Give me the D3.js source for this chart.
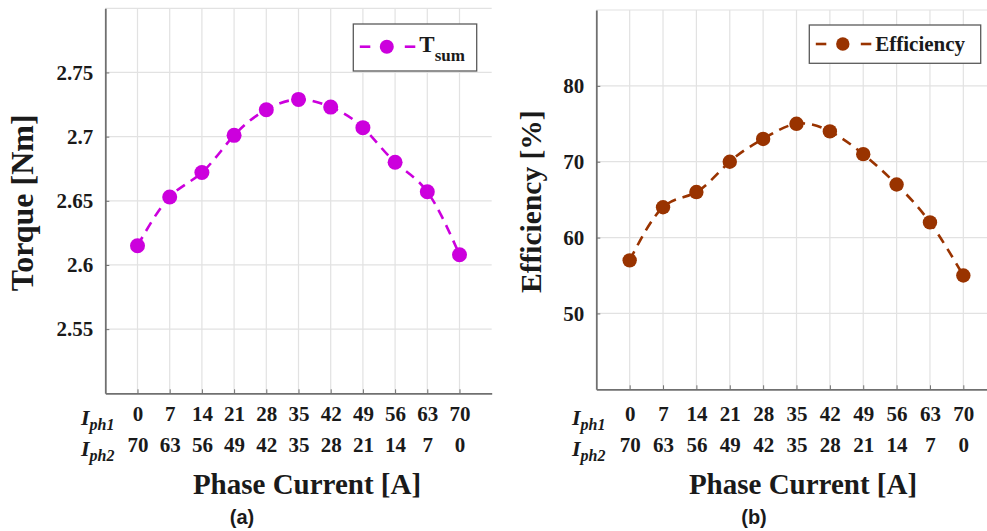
<!DOCTYPE html>
<html>
<head>
<meta charset="utf-8">
<script src="https://cdn.jsdelivr.net/npm/d3@7"></script>
<style>
  html, body { margin: 0; padding: 0; background: #fff; }
  svg { display: block; }
  text { fill: #1a1a1a; }
</style>
</head>
<body>
<svg id="chart" width="987" height="531"></svg>
<script>
// ---------------- data ----------------
const iph1 = [0, 7, 14, 21, 28, 35, 42, 49, 56, 63, 70];
const iph2 = [70, 63, 56, 49, 42, 35, 28, 21, 14, 7, 0];
const torque = [2.615, 2.653, 2.672, 2.701, 2.721, 2.729, 2.723, 2.707, 2.680, 2.657, 2.608];
const efficiency = [57, 64, 66, 70, 73, 75, 74, 71, 67, 62, 55];
const torqueTicks = [2.55, 2.6, 2.65, 2.7, 2.75];
const effTicks = [50, 60, 70, 80];
const torqueTickLabels = ["2.55", "2.6", "2.65", "2.7", "2.75"];
const effTickLabels = ["50", "60", "70", "80"];

const svg = d3.select("#chart");
const serif = "'Liberation Serif', 'Times New Roman', serif";
const sans = "'Liberation Sans', Arial, sans-serif";

function panel(cfg) {
  const g = svg.append("g");
  const idx = d3.range(iph1.length);
  const x = d3.scaleLinear().domain([-1, 11]).range([cfg.x0, cfg.x1]);
  const y = d3.scaleLinear().domain(cfg.yDomain).range([cfg.y0, cfg.y1]);

  // grid: vertical
  g.append("g").attr("class", "vgrid")
    .selectAll("line").data(idx).join("line")
    .attr("x1", d => x(d)).attr("x2", d => x(d))
    .attr("y1", cfg.y0).attr("y2", cfg.y1)
    .attr("stroke", "#e2e2e2").attr("stroke-width", 1.2);
  // grid: horizontal (ticks + top)
  g.append("g").attr("class", "hgrid")
    .selectAll("line").data(cfg.ticks.concat([cfg.yDomain[1]])).join("line")
    .attr("x1", cfg.x0).attr("x2", cfg.x1)
    .attr("y1", d => y(d)).attr("y2", d => y(d))
    .attr("stroke", "#e2e2e2").attr("stroke-width", 1.2);

  // y axis
  const yAxis = d3.axisLeft(y).tickValues(cfg.ticks)
    .tickFormat((d, i) => cfg.tickLabels[i]).tickSizeInner(-4).tickSizeOuter(0).tickPadding(12);
  const ya = g.append("g").attr("transform", `translate(${cfg.x0},0)`).call(yAxis);
  ya.select(".domain").attr("stroke", "#707070").attr("stroke-width", 1.8);
  ya.selectAll(".tick line").attr("stroke", "#707070").attr("stroke-width", 1);
  ya.selectAll(".tick text").attr("font-family", serif).attr("font-weight", "bold")
    .attr("font-size", cfg.tickFont).attr("fill", "#1a1a1a");

  // x axis row 1 (Iph1)
  const xAxis1 = d3.axisBottom(x).tickValues(idx).tickFormat(i => iph1[i])
    .tickSizeInner(-4).tickSizeOuter(0).tickPadding(cfg.row1Pad);
  const xa = g.append("g").attr("transform", `translate(0,${cfg.y0})`).call(xAxis1);
  xa.select(".domain").attr("stroke", "#707070").attr("stroke-width", 1.8);
  xa.selectAll(".tick line").attr("stroke", "#707070").attr("stroke-width", 1);
  xa.selectAll(".tick text").attr("font-family", serif).attr("font-weight", "bold")
    .attr("font-size", cfg.tickFont).attr("fill", "#1a1a1a");

  // x axis row 2 (Iph2)
  const xAxis2 = d3.axisBottom(x).tickValues(idx).tickFormat(i => iph2[i])
    .tickSize(0).tickPadding(cfg.row2Pad);
  const xb = g.append("g").attr("transform", `translate(0,${cfg.y0})`).call(xAxis2);
  xb.select(".domain").remove();
  xb.selectAll(".tick text").attr("font-family", serif).attr("font-weight", "bold")
    .attr("font-size", cfg.tickFont).attr("fill", "#1a1a1a");

  // row labels I_ph1, I_ph2
  [["1", cfg.row1Base], ["2", cfg.row2Base]].forEach(([n, base]) => {
    const t = g.append("text").attr("x", cfg.labX).attr("y", base)
      .attr("font-family", serif).attr("font-weight", "bold").attr("font-style", "italic")
      .attr("font-size", cfg.tickFont + 1);
    t.append("tspan").text("I");
    t.append("tspan").attr("dy", 5).attr("font-size", cfg.tickFont - 5).text("ph" + n);
  });

  // axis titles
  g.append("text")
    .attr("transform", `translate(${cfg.yTitleX},${(cfg.y0 + cfg.y1) / 2 + 2}) rotate(-90)`)
    .attr("text-anchor", "middle").attr("font-family", serif).attr("font-weight", "bold")
    .attr("font-size", cfg.yTitleFont).text(cfg.yTitle);
  g.append("text").attr("x", cfg.xTitleX).attr("y", cfg.xTitleY)
    .attr("text-anchor", "middle").attr("font-family", serif).attr("font-weight", "bold")
    .attr("font-size", 29).text("Phase Current [A]");
  g.append("text").attr("x", cfg.tagX).attr("y", 524)
    .attr("text-anchor", "middle").attr("font-family", sans).attr("font-weight", "bold")
    .attr("font-size", 20).text(cfg.tag);

  // data line
  const line = d3.line().x((d, i) => x(i)).y(d => y(d)).curve(d3.curveNatural);
  g.append("path").datum(cfg.values).attr("d", line)
    .attr("fill", "none").attr("stroke", cfg.color).attr("stroke-width", 2.6)
    .attr("stroke-dasharray", "10,7");
  g.append("g").selectAll("circle").data(cfg.values).join("circle")
    .attr("cx", (d, i) => x(i)).attr("cy", d => y(d)).attr("r", cfg.r)
    .attr("fill", cfg.color);

  // legend
  const L = cfg.legend;
  g.append("rect").attr("x", L.x).attr("y", L.y).attr("width", L.w).attr("height", L.h)
    .attr("fill", "#fff").attr("stroke", "#5a5a5a").attr("stroke-width", 1.3);
  const ly = L.y + L.lineDy;
  [[6.5, 17], [51.5, 62]].forEach(([a, b]) => {
    g.append("line").attr("x1", L.x + a).attr("x2", L.x + b).attr("y1", ly).attr("y2", ly)
      .attr("stroke", cfg.color).attr("stroke-width", 2.6);
  });
  g.append("circle").attr("cx", L.x + 33.5).attr("cy", ly).attr("r", cfg.r - 0.5).attr("fill", cfg.color);
  const lt = g.append("text").attr("x", L.x + 66).attr("y", L.textBase)
    .attr("font-family", serif).attr("font-weight", "bold").attr("font-size", L.font);
  lt.append("tspan").text(L.main);
  if (L.sub) lt.append("tspan").attr("dy", 9).attr("font-size", L.font - 6).text(L.sub);
}

panel({
  x0: 105.3, x1: 491.7, y0: 393.3, y1: 8.3,
  yDomain: [2.5, 2.8], ticks: torqueTicks, tickLabels: torqueTickLabels,
  values: torque, color: "#cc00dd", r: 7.5,
  tickFont: 21, yTitleFont: 32,
  row1Pad: 13, row2Pad: 44, row1Base: 425, row2Base: 456, labX: 81,
  yTitle: "Torque [Nm]", yTitleX: 33,
  xTitleX: 307, xTitleY: 494, tag: "(a)", tagX: 242,
  legend: { x: 353.3, y: 24, w: 123.4, h: 47, lineDy: 22.7, textBase: 52, font: 23, main: "T", sub: "sum" }
});

panel({
  x0: 596.3, x1: 996.7, y0: 389.3, y1: 10,
  yDomain: [40, 90], ticks: effTicks, tickLabels: effTickLabels,
  values: efficiency, color: "#993300", r: 7.2,
  tickFont: 21, yTitleFont: 29.5,
  row1Pad: 17, row2Pad: 48, row1Base: 425, row2Base: 456, labX: 572,
  yTitle: "Efficiency [%]", yTitleX: 541,
  xTitleX: 803, xTitleY: 494, tag: "(b)", tagX: 754,
  legend: { x: 809.3, y: 25, w: 171.4, h: 38.3, lineDy: 19, textBase: 51, font: 21, main: "Efficiency" }
});
</script>
</body>
</html>
